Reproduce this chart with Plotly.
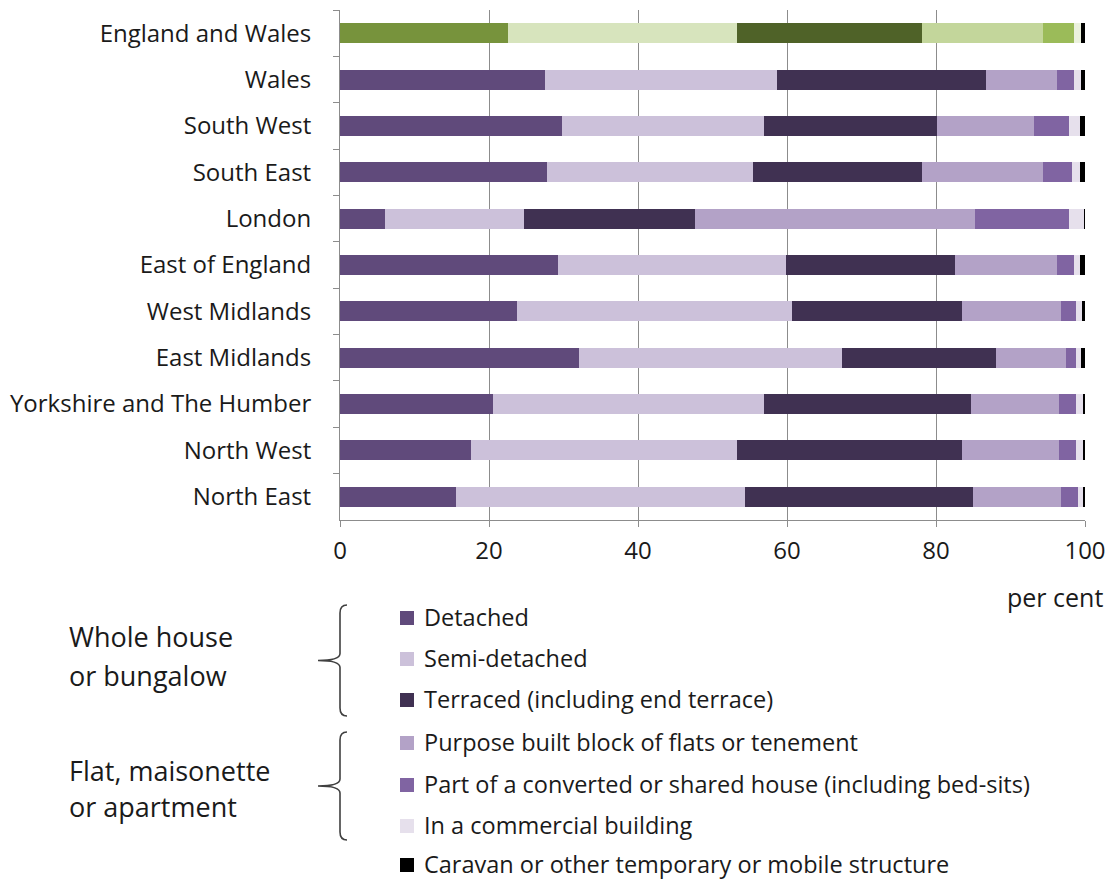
import plotly.graph_objects as go

regions = ["England and Wales", "Wales", "South West", "South East", "London",
           "East of England", "West Midlands", "East Midlands",
           "Yorkshire and The Humber", "North West", "North East"]

types = ["Detached", "Semi-detached", "Terraced (including end terrace)",
         "Purpose built block of flats or tenement",
         "Part of a converted or shared house (including bed-sits)",
         "In a commercial building",
         "Caravan or other temporary or mobile structure"]

detached      = [22.5, 27.5, 29.8, 27.8, 6.1, 29.3, 23.7, 32.1, 20.5, 17.6, 15.6]
semi_detached = [30.8, 31.2, 27.1, 27.7, 18.6, 30.5, 37.0, 35.3, 36.4, 35.7, 38.8]
terraced      = [24.8, 28.0, 23.2, 22.6, 23.0, 22.8, 22.8, 20.7, 27.8, 30.2, 30.6]
purpose_built = [16.2, 9.6, 13.0, 16.2, 37.6, 13.7, 13.3, 9.3, 11.8, 13.0, 11.8]
converted     = [4.2, 2.2, 4.8, 4.0, 12.6, 2.2, 2.0, 1.4, 2.3, 2.3, 2.3]
commercial    = [1.0, 1.0, 1.4, 1.0, 2.0, 0.8, 0.8, 0.7, 0.9, 1.0, 0.7]
caravan       = [0.5, 0.5, 0.7, 0.7, 0.1, 0.7, 0.4, 0.5, 0.3, 0.2, 0.2]

series = [detached, semi_detached, terraced, purpose_built, converted, commercial, caravan]

purple_cols = ["#604A7B", "#CCC1DA", "#403152", "#B3A2C7", "#8064A2", "#E6E0EC", "#000000"]
green_cols  = ["#77933C", "#D7E4BD", "#4F6228", "#C3D69B", "#9BBB59", "#EBF1DE", "#000000"]

group_labels = [["Whole house", "or bungalow"], ["Flat, maisonette", "or apartment"]]

FONT = "Open Sans"
TXT = "#1a1a1a"

fig = go.Figure()
for name, vals, pc, gc in zip(types, series, purple_cols, green_cols):
    cols = [gc if r == "England and Wales" else pc for r in regions]
    fig.add_trace(go.Bar(
        y=regions, x=vals, name=name, orientation="h",
        marker=dict(color=cols, line=dict(width=0)),
        showlegend=False, hoverinfo="name+x"))

# page offset (body margin) and layout geometry in reference pixels
OFF = 8
W, H = 1113 - OFF, 880 - OFF
L, R, T, B = 340, 1085, 10, 520   # plot area in reference pixels

def px(x):
    return (x - L) / (R - L)

def py(y):
    return (B - y) / (B - T)

annotations = []
shapes = []

# legend rows
row_y = [617, 658, 699, 742, 784, 825, 864]
for name, col, yy in zip(types, purple_cols, row_y):
    shapes.append(dict(type="rect", xref="paper", yref="paper",
                       x0=px(400), x1=px(414), y0=py(yy + 8), y1=py(yy - 6),
                       fillcolor=col, line=dict(width=0)))
    annotations.append(dict(text=name, xref="paper", yref="paper",
                            x=px(422), y=py(yy), xanchor="left", yanchor="middle",
                            showarrow=False, font=dict(family=FONT, size=23.5, color=TXT)))

# group labels
for lines, ys in zip(group_labels, [[636, 675], [770, 806]]):
    for t, yy in zip(lines, ys):
        annotations.append(dict(text=t, xref="paper", yref="paper",
                                x=px(67), y=py(yy), xanchor="left", yanchor="middle",
                                showarrow=False, font=dict(family=FONT, size=27, color=TXT)))

# braces
def brace(top, bot, xs=340, tip=318, end=347):
    mid = (top + bot) / 2
    pts = [
        f"M {px(end)},{py(top)}",
        f"Q {px(xs)},{py(top)} {px(xs)},{py(top + 8)}",
        f"L {px(xs)},{py(mid - 7)}",
        f"Q {px(xs)},{py(mid)} {px(tip)},{py(mid)}",
        f"Q {px(xs)},{py(mid)} {px(xs)},{py(mid + 7)}",
        f"L {px(xs)},{py(bot - 8)}",
        f"Q {px(xs)},{py(bot)} {px(end)},{py(bot)}",
    ]
    return dict(type="path", xref="paper", yref="paper", path=" ".join(pts),
                line=dict(color="#404040", width=1.6))

shapes.append(brace(605, 716))
shapes.append(brace(732, 840))

annotations.append(dict(text="per cent", xref="paper", yref="paper",
                        x=px(1055), y=py(597), xanchor="center", yanchor="middle",
                        showarrow=False, font=dict(family=FONT, size=25, color=TXT)))

fig.update_layout(
    barmode="stack",
    bargap=0.57,
    width=W, height=H,
    margin=dict(l=L - OFF, r=1113 - R, t=T - OFF, b=880 - B, pad=0),
    plot_bgcolor="white", paper_bgcolor="white",
    font=dict(family=FONT, size=24, color=TXT),
    xaxis=dict(range=[0, 100], tickvals=[0, 20, 40, 60, 80, 100],
               showgrid=True, gridcolor="#8c8c8c", gridwidth=1,
               showline=True, linecolor="#8c8c8c", linewidth=1,
               ticks="outside", ticklen=6, tickcolor="#8c8c8c",
               zeroline=False, tickfont=dict(family=FONT, size=24, color=TXT),
               ticklabelstandoff=3, fixedrange=True),
    yaxis=dict(autorange="reversed", type="category",
               showline=True, linecolor="#8c8c8c", linewidth=1,
               ticks="outside", ticklen=6, tickcolor="#8c8c8c",
               tickson="boundaries", showgrid=False,
               tickfont=dict(family=FONT, size=24, color=TXT),
               ticklabelstandoff=23, fixedrange=True),
    annotations=annotations,
    shapes=shapes,
)

fig.write_html("out.html")
